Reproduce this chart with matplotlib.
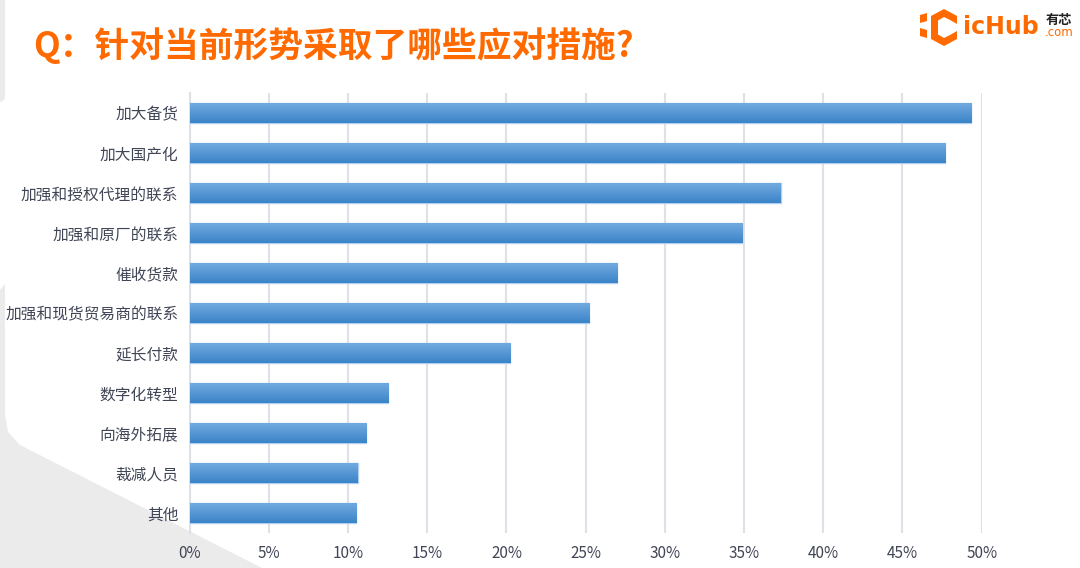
import numpy as np
import matplotlib
matplotlib.use("Agg")
import matplotlib.pyplot as plt
from matplotlib.colors import LinearSegmentedColormap
from matplotlib.patches import Polygon, FancyBboxPatch
from matplotlib.ticker import FuncFormatter, MultipleLocator

plt.rcParams['font.family'] = ['Noto Sans CJK SC', 'DejaVu Sans']

title = "Q：针对当前形势采取了哪些应对措施?"
measures = ["加大备货", "加大国产化", "加强和授权代理的联系", "加强和原厂的联系", "催收货款",
            "加强和现货贸易商的联系", "延长付款", "数字化转型", "向海外拓展", "裁减人员", "其他"]
shares = [49.3, 47.7, 37.3, 34.9, 27.0, 25.2, 20.2, 12.55, 11.15, 10.6, 10.5]

orange = "#ff6a00"
label_color = "#414656"
grid_color = "#dde1e8"

fig = plt.figure(figsize=(10.8, 5.68), dpi=100)

# background decoration (pixel coordinates)
bg = fig.add_axes([0, 0, 1, 1], zorder=-1)
bg.set_xlim(0, 1080)
bg.set_ylim(568, 0)
bg.axis("off")
deco = "#ebebeb"
bg.add_patch(FancyBboxPatch((-20, -20), 25, 122, boxstyle="round,pad=0,rounding_size=6",
                            fc=deco, ec="none"))
bg.add_patch(Polygon([(0, 290), (5, 284), (5, 415), (8, 432), (20, 445), (262, 568), (0, 568)],
                     closed=True, fc=deco, ec="none"))

ax = fig.add_axes([189.6 / 1080, 1 - 533 / 568, (981.7 - 189.6) / 1080, 440 / 568])

y = np.arange(len(measures))
h = 0.5
bars = ax.barh(y, shares, height=h, color="#5595d6", edgecolor="#b3cfee", linewidth=1.0, zorder=3)

cmap = LinearSegmentedColormap.from_list("bar", ["#72aadf", "#3b84c9"])
grad = np.linspace(0, 1, 64).reshape(-1, 1)
for bar, yi, v in zip(bars, y, shares):
    im = ax.imshow(grad, extent=(0, v, yi + h / 2, yi - h / 2), aspect="auto",
                   cmap=cmap, zorder=3.5, interpolation="bilinear")
    im.set_clip_path(bar)

ax.set_xlim(0, 50)
ax.set_ylim(len(measures) - 0.5, -0.5)
ax.xaxis.set_major_locator(MultipleLocator(5))
ax.xaxis.set_major_formatter(FuncFormatter(lambda v, p: f"{v:.0f}%"))
ax.set_yticks(y)
ax.set_yticklabels(measures)
ax.grid(axis="x", color=grid_color, linewidth=1.5, zorder=0)
for s in ["top", "right", "bottom"]:
    ax.spines[s].set_visible(False)
ax.spines["left"].set_color(grid_color)
ax.spines["left"].set_linewidth(1.5)
ax.tick_params(axis="both", length=0, colors=label_color)
ax.tick_params(axis="y", labelsize=11.3, pad=8)
ax.tick_params(axis="x", labelsize=11, pad=9)
ax.set_facecolor("none")

# title
fig.text(33 / 1080, 1 - 46 / 568, title, color=orange, fontsize=25, fontweight="black",
         ha="left", va="center")

# logo
lg = bg
hexo = [(944, 9), (957, 16), (957, 24), (950, 20), (950, 35), (957, 31), (957, 39),
        (944, 46), (931, 39), (931, 16)]
lg.add_patch(Polygon(hexo, closed=True, fc=orange, ec="none"))
lg.add_patch(Polygon([(944, 17), (938, 20.5), (938, 34.5), (944, 38), (950, 35), (950, 20)],
                     closed=True, fc="white", ec="none"))
lg.add_patch(Polygon([(920, 15), (927, 13), (927, 21), (920, 23)], closed=True, fc=orange, ec="none"))
lg.add_patch(Polygon([(920, 28), (927, 30), (927, 38), (920, 36)], closed=True, fc=orange, ec="none"))
fig.text(963 / 1080, 1 - 27 / 568, "icHub", color=orange, fontsize=17, fontweight="bold",
         family="DejaVu Sans", ha="left", va="center")
fig.text(1059 / 1080, 1 - 20 / 568, "有芯", color="#222222", fontsize=9.5, fontweight="bold",
         ha="center", va="center")
fig.text(1059 / 1080, 1 - 33 / 568, ".com", color=orange, fontsize=8.5,
         family="DejaVu Sans", ha="center", va="center")

fig.savefig("out.png", dpi=100)
